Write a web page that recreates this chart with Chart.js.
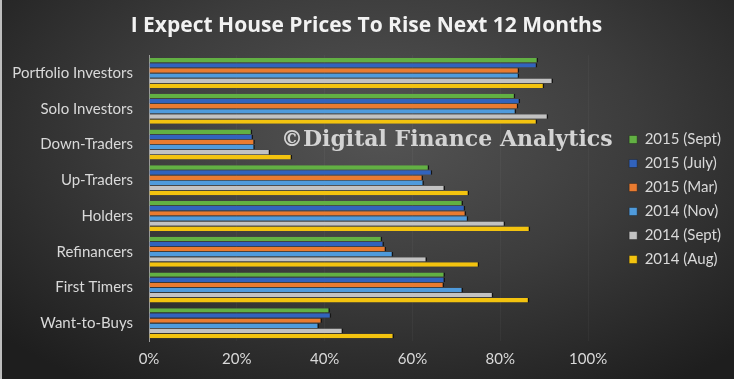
<!DOCTYPE html>
<html>
<head>
<meta charset="utf-8">
<script src="https://cdn.jsdelivr.net/npm/chart.js@4"></script>
<style>
  html, body { margin: 0; padding: 0; }
  body {
    width: 734px; height: 379px; overflow: hidden; position: relative;
    background: radial-gradient(ellipse 70% 80% at 52% 35%, #545454 0%, #3c3c3c 50%, #1e1e1e 100%);
  }
  #edge { position: absolute; left: 0; top: 0; width: 2px; height: 379px; background: #bdbdbd; }
  canvas { display: block; }
</style>
</head>
<body>
<canvas id="myChart" width="734" height="379"></canvas>
<div id="edge"></div>
<script>
const categories = ['Portfolio Investors', 'Solo Investors', 'Down-Traders', 'Up-Traders',
    'Holders', 'Refinancers', 'First Timers', 'Want-to-Buys'];
const sept2015 = [88.6, 83.4, 23.5, 63.8, 71.5, 53.1, 67.4, 41.2];
const july2015 = [88.4, 84.5, 23.7, 64.5, 72.0, 53.5, 67.4, 41.5];
const mar2015  = [84.3, 84.1, 24.1, 62.4, 72.2, 54.0, 67.2, 39.4];
const nov2014  = [84.3, 83.6, 24.1, 62.6, 72.7, 55.6, 71.5, 38.7];
const sept2014 = [92.0, 90.9, 27.6, 67.4, 81.1, 63.3, 78.4, 44.2];
const aug2014  = [90.0, 88.4, 32.6, 72.9, 86.8, 75.2, 86.6, 55.8];
const xTicks = [0, 20, 40, 60, 80, 100];

const txt = '#d9d9d9';

// watermark drawn over the bars
const watermark = {
    id: 'watermark',
    afterDatasetsDraw(chart) {
        const c = chart.ctx;
        c.save();
        c.font = 'bold 22px "DejaVu Serif"';
        c.fillStyle = '#d4d4d4';
        c.textBaseline = 'middle';
        c.fillText('\u00A9Digital Finance Analytics', 281, 140);
        c.restore();
    }
};

// legend sits a bit away from the plot, title centred on the whole picture
const boxShift = {
    id: 'boxShift',
    afterLayout(chart) {
        const lg = chart.legend;
        lg.left += 32; lg.right += 32;
        lg.top += 10; lg.bottom += 10;
        const tb = chart.titleBlock;
        tb.left += 17; tb.right += 17;
    }
};

function ds(label, data, color) {
    return {
        label: label,
        data: data,
        backgroundColor: color,
        borderColor: '#151515',
        borderWidth: {top: 0, bottom: 0, left: 0, right: 1.5},
        borderSkipped: false,
        categoryPercentage: 0.86,
        barPercentage: 0.86
    };
}

const ctx = document.querySelector('#myChart').getContext('2d');
const myChart = new Chart(ctx, {
    type: 'bar',
    data: {
        labels: categories,
        datasets: [
            ds('2015 (Sept)', sept2015, '#62b043'),
            ds('2015 (July)', july2015, '#3163bd'),
            ds('2015 (Mar)', mar2015, '#e97b30'),
            ds('2014 (Nov)', nov2014, '#4f9bdc'),
            ds('2014 (Sept)', sept2014, '#c2c2c2'),
            ds('2014 (Aug)', aug2014, '#f3c30f')
        ]
    },
    plugins: [watermark, boxShift],
    options: {
        indexAxis: 'y',
        responsive: false,
        animation: false,
        layout: { padding: { left: 0, right: 35, top: 0, bottom: 0 } },
        plugins: {
            title: {
                display: true,
                text: 'I Expect House Prices To Rise Next 12 Months',
                color: '#f2f2f2',
                font: { family: 'Open Sans', size: 21, weight: 'bold' },
                padding: { top: 13, bottom: 17 }
            },
            legend: {
                position: 'right',
                labels: {
                    color: txt,
                    font: { family: 'Lato', size: 15 },
                    boxWidth: 8,
                    boxHeight: 8,
                    padding: 9
                }
            },
            tooltip: { enabled: false }
        },
        scales: {
            x: {
                min: 0,
                max: 100,
                afterBuildTicks: function (s) { s.ticks = xTicks.map(v => ({value: v})); },
                afterFit: function (s) { s.height = 38; },
                grid: { display: true, color: 'rgba(255,255,255,0.035)', drawTicks: false },
                border: { display: false },
                ticks: {
                    color: txt,
                    font: { family: 'Lato', size: 15 },
                    padding: 9,
                    maxRotation: 0,
                    callback: v => v + '%'
                }
            },
            y: {
                afterFit: function (s) { s.width = 149; },
                grid: { display: false, drawTicks: false },
                border: { display: true, color: '#9a9a9a', width: 1 },
                ticks: {
                    color: txt,
                    font: { family: 'Lato', size: 15 },
                    padding: 16
                }
            }
        }
    }
});
</script>
</body>
</html>
